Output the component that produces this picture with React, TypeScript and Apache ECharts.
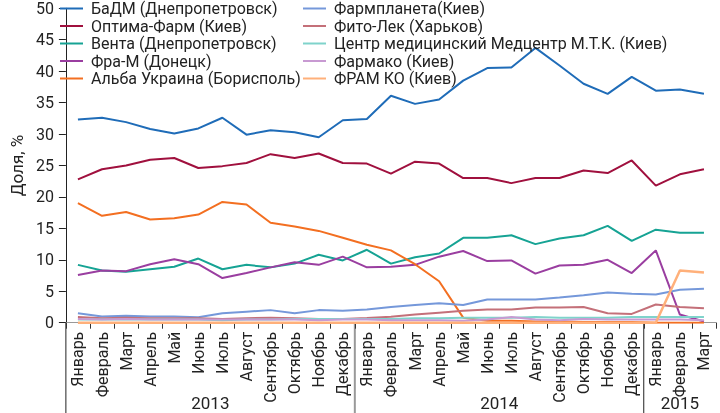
import React, { useEffect, useRef } from "react";
import * as echarts from "echarts";

const months = ["Январь", "Февраль", "Март", "Апрель", "Май", "Июнь", "Июль", "Август", "Сентябрь", "Октябрь", "Ноябрь", "Декабрь"];
const categories = [...months, ...months, "Январь", "Февраль", "Март"];
const years = ["2013", "2014", "2015"];
const yearStart = [0, 12, 24];
const yearEnd = [11, 23, 26];

const badm = [32.3, 32.6, 31.9, 30.8, 30.1, 30.9, 32.6, 29.9, 30.6, 30.3, 29.5, 32.2, 32.4, 36.1, 34.8, 35.5, 38.5, 40.5, 40.6, 43.7, 40.9, 38.0, 36.4, 39.1, 36.9, 37.1, 36.4];
const optima = [22.8, 24.4, 25.0, 25.9, 26.2, 24.6, 24.9, 25.4, 26.8, 26.2, 26.9, 25.4, 25.3, 23.7, 25.6, 25.3, 23.0, 23.0, 22.2, 23.0, 23.0, 24.2, 23.8, 25.8, 21.8, 23.6, 24.4];
const venta = [9.2, 8.3, 8.1, 8.5, 8.9, 10.2, 8.5, 9.2, 8.8, 9.4, 10.8, 9.9, 11.6, 9.4, 10.4, 11.0, 13.5, 13.5, 13.9, 12.5, 13.4, 13.9, 15.4, 13.0, 14.8, 14.3, 14.3];
const fram = [7.6, 8.3, 8.2, 9.3, 10.1, 9.3, 7.1, 7.9, 8.8, 9.6, 9.2, 10.5, 8.8, 8.9, 9.2, 10.5, 11.4, 9.8, 9.9, 7.8, 9.1, 9.2, 10.0, 7.9, 11.5, 1.3, 0.2];
const alba = [19.0, 17.0, 17.6, 16.4, 16.6, 17.2, 19.2, 18.8, 15.9, 15.3, 14.6, 13.5, 12.4, 11.5, 9.3, 6.6, 0.8, 0.3, 0.3, 0.2, 0.2, 0.1, 0.1, 0.1, 0, 0, 0];
const farmplaneta = [1.5, 1.0, 1.1, 1.0, 1.0, 0.85, 1.5, 1.75, 2.0, 1.5, 2.0, 1.9, 2.1, 2.5, 2.8, 3.1, 2.8, 3.7, 3.7, 3.7, 4.0, 4.35, 4.8, 4.6, 4.5, 5.25, 5.4];
const fitolek = [0.9, 0.7, 0.8, 0.7, 0.7, 0.7, 0.6, 0.7, 0.8, 0.7, 0.6, 0.6, 0.75, 0.95, 1.3, 1.6, 1.9, 2.1, 2.1, 2.4, 2.4, 2.5, 1.5, 1.4, 2.9, 2.5, 2.3];
const medcentr = [0.5, 0.5, 0.5, 0.5, 0.5, 0.5, 0.4, 0.5, 0.5, 0.6, 0.6, 0.6, 0.6, 0.6, 0.7, 0.7, 0.8, 0.8, 0.8, 0.9, 0.8, 0.8, 0.8, 0.9, 0.9, 0.9, 0.9];
const farmako = [0.6, 0.5, 0.6, 0.5, 0.5, 0.5, 0.5, 0.5, 0.5, 0.5, 0.4, 0.5, 0.5, 0.4, 0.4, 0.4, 0.3, 0.5, 0.9, 0.5, 0.4, 0.6, 0.5, 0.5, 0.5, 0.5, 0.4];
const framko = [0, 0, 0, 0, 0, 0, 0, 0, 0, 0, 0, 0, 0, 0, 0, 0, 0, 0, 0, 0, 0, 0, 0, 0, 0, 8.3, 8.0];

const seriesDefs = [
  { name: "БаДМ (Днепропетровск)", data: badm, color: "#1f6cb8", width: 2 },
  { name: "Оптима-Фарм (Киев)", data: optima, color: "#a0103e", width: 2 },
  { name: "Вента (Днепропетровск)", data: venta, color: "#16a394", width: 2 },
  { name: "Фра-М (Донецк)", data: fram, color: "#9a3ea0", width: 2 },
  { name: "Альба Украина (Борисполь)", data: alba, color: "#f36f21", width: 2 },
  { name: "Фармпланета(Киев)", data: farmplaneta, color: "#7598da", width: 2 },
  { name: "Фито-Лек (Харьков)", data: fitolek, color: "#c47079", width: 2 },
  { name: "Центр медицинский Медцентр М.Т.К. (Киев)", data: medcentr, color: "#7fd3cb", width: 2 },
  { name: "Фармако (Киев)", data: farmako, color: "#c89ad2", width: 2 },
  { name: "ФРАМ КО (Киев)", data: framko, color: "#ffb07a", width: 2.5 },
];

const FONT = "Roboto";

export default function App() {
  const ref = useRef<HTMLDivElement>(null);
  useEffect(() => {
    if (!ref.current) return;
    const chart = echarts.init(ref.current, null, { renderer: "svg" });
    const legendCommon = {
      orient: "vertical" as const,
      top: 0,
      padding: 0,
      itemWidth: 23,
      itemHeight: 12,
      itemGap: 0.5,
      textStyle: { fontFamily: FONT, fontSize: 16, lineHeight: 17, color: "#222", padding: [0, 0, 0, 3] },
      icon: "path://M0,5 L23,5 L23,7 L0,7 Z",
      selectedMode: false,
    };
    chart.setOption({
      animation: false,
      grid: { left: 53, right: 4, top: 8.3, bottom: 90.3, containLabel: false },
      legend: [
        { ...legendCommon, left: 60, data: seriesDefs.filter((_, i) => i < 5).map((s) => s.name) },
        { ...legendCommon, left: 303, data: seriesDefs.filter((_, i) => i >= 5).map((s) => s.name) },
      ],
      xAxis: {
        type: "category",
        data: categories,
        boundaryGap: true,
        axisLine: { lineStyle: { color: "#999", width: 1 } },
        axisTick: { show: true, interval: 0, length: 6, lineStyle: { color: "#333" } },
        axisLabel: { interval: 0, rotate: 90, fontFamily: FONT, fontSize: 16, color: "#222", margin: 9 },
      },
      yAxis: {
        type: "value",
        min: 0,
        max: 50,
        interval: 5,
        name: "Доля, %",
        nameLocation: "middle",
        nameGap: 36,
        nameTextStyle: { fontFamily: FONT, fontSize: 17, color: "#222" },
        axisLine: { show: true, lineStyle: { color: "#222", width: 1 } },
        axisTick: { show: true, length: 7, lineStyle: { color: "#222" } },
        axisLabel: { fontFamily: FONT, fontSize: 16, color: "#222", margin: 12 },
        splitLine: { show: false },
      },
      series: seriesDefs.map((s) => ({
        type: "line",
        name: s.name,
        data: s.data,
        symbol: "none",
        color: s.color,
        lineStyle: { color: s.color, width: s.width },
        itemStyle: { color: s.color },
      })),
    });

    const p0 = chart.convertToPixel({ xAxisIndex: 0 }, 0) as number;
    const p1 = chart.convertToPixel({ xAxisIndex: 0 }, 1) as number;
    const step = p1 - p0;
    const boundary = (i: number) => p0 - step / 2 + i * step;
    const yZero = chart.convertToPixel({ yAxisIndex: 0 }, 0) as number;
    const elements: any[] = [];
    const sepColors = ["#222", "#999", "#222"];
    yearStart.forEach((st, i) => {
      elements.push({
        type: "line",
        shape: { x1: boundary(st), y1: yZero, x2: boundary(st), y2: 413 },
        style: { stroke: sepColors[i], lineWidth: i === 1 ? 2 : 1 },
        silent: true,
      });
      elements.push({
        type: "text",
        x: (boundary(st) + boundary(yearEnd[i] + 1)) / 2,
        y: 403,
        style: {
          text: years[i],
          fontFamily: FONT,
          fontSize: 17,
          fill: "#222",
          align: "center",
          verticalAlign: "middle",
        },
        silent: true,
      });
    });
    chart.setOption({ graphic: elements });

    return () => chart.dispose();
  }, []);
  return <div ref={ref} style={{ position: "fixed", left: 0, top: 0, width: 720, height: 413 }} />;
}
